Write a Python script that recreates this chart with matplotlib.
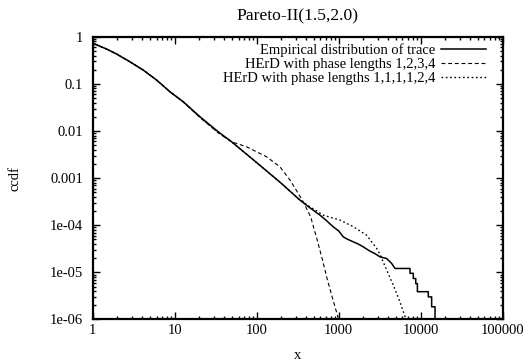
import matplotlib
matplotlib.use("Agg")
import matplotlib.pyplot as plt
import numpy as np

plt.rcParams['font.family'] = ['Liberation Serif', 'DejaVu Serif']
plt.rcParams['font.size'] = 10.5

title = "Pareto-II(1.5,2.0)"
xlabel = "x"
ylabel = "ccdf"
labels = ["Empirical distribution of trace",
          "HErD with phase lengths 1,2,3,4",
          "HErD with phase lengths 1,1,1,1,2,4"]
xticks = [1, 10, 100, 1000, 10000, 100000]
xticklabels = ["1", "10", "100", "1000", "10000", "100000"]
yticks = [1, 0.1, 0.01, 0.001, 1e-4, 1e-5, 1e-6]
yticklabels = ["1", "0.1", "0.01", "0.001", "1e-04", "1e-05", "1e-06"]

# Empirical ccdf (log10 x, log10 y)
emp_logx = [0.0, 0.171, 0.293, 0.455, 0.617, 0.780, 0.943, 1.105, 1.309, 1.532,
            1.695, 2.0, 2.3, 2.528, 2.65, 2.772, 2.85, 2.934, 3.0, 3.056, 3.10,
            3.178, 3.24, 3.30, 3.382, 3.44, 3.504, 3.585, 3.646, 3.687, 3.87,
            3.87, 3.91, 3.91, 3.94, 3.94, 3.96, 3.96, 4.093, 4.093, 4.134,
            4.134, 4.175, 4.175]
emp_logy = [-0.135, -0.261, -0.367, -0.531, -0.707, -0.919, -1.168, -1.380, -1.699, -2.017,
            -2.23, -2.67, -3.11, -3.467, -3.63, -3.785, -3.90, -4.034, -4.12, -4.246, -4.29,
            -4.352, -4.40, -4.459, -4.55, -4.60, -4.671, -4.706, -4.81, -4.917, -4.917,
            -5.02, -5.02, -5.13, -5.13, -5.24, -5.24, -5.41, -5.41, -5.52, -5.52,
            -5.73, -5.73, -6.6]

# HErD 1,2,3,4
h1_logx = [0.0, 0.171, 0.293, 0.455, 0.617, 0.780, 0.943, 1.105, 1.309, 1.532,
           1.695, 1.878, 2.122, 2.284, 2.406, 2.507, 2.568, 2.658, 2.739, 2.80,
           2.861, 2.93, 3.0, 3.03]
h1_logy = [-0.135, -0.261, -0.367, -0.531, -0.707, -0.919, -1.165, -1.385, -1.715, -2.04,
           -2.23, -2.335, -2.548, -2.76, -3.04, -3.325, -3.503, -3.82, -4.32, -4.72,
           -5.15, -5.58, -6.0, -6.2]

# HErD 1,1,1,1,2,4
h2_logx = [0.0, 0.171, 0.293, 0.455, 0.617, 0.780, 0.943, 1.105, 1.309, 1.532,
           1.695, 2.0, 2.3, 2.528, 2.65, 2.81, 3.016, 3.178, 3.34, 3.463, 3.504,
           3.585, 3.666, 3.748, 3.81, 3.83]
h2_logy = [-0.135, -0.261, -0.367, -0.531, -0.707, -0.919, -1.170, -1.378, -1.705, -2.03,
           -2.23, -2.67, -3.11, -3.467, -3.61, -3.785, -3.89, -4.03, -4.21, -4.49, -4.62,
           -4.95, -5.27, -5.63, -5.94, -6.05]

fig = plt.figure(figsize=(5.28, 3.61), dpi=100)
ax = fig.add_axes([0.1756, 0.115, 0.952 - 0.1756, 0.898 - 0.115])

ax.plot(10 ** np.array(emp_logx), 10 ** np.array(emp_logy), color='black', lw=1.1,
        label=labels[0])
ax.plot(10 ** np.array(h1_logx), 10 ** np.array(h1_logy), color='black', lw=0.8,
        dashes=(3.5, 2.5), label=labels[1])
ax.plot(10 ** np.array(h2_logx), 10 ** np.array(h2_logy), color='black', lw=1.0,
        dashes=(1.2, 1.9), label=labels[2])

ax.set_xscale('log')
ax.set_yscale('log')
ax.set_xlim(1, 100000)
ax.set_ylim(1e-6, 1)
ax.set_xticks(xticks)
ax.set_xticklabels(xticklabels)
ax.set_yticks(yticks)
ax.set_yticklabels(yticklabels)
ax.tick_params(which='both', direction='in', top=True, right=True, width=1.0)
ax.tick_params(which='major', length=5)
ax.tick_params(which='minor', length=2.5)
ax.tick_params(axis='x', which='major', pad=3)
ax.tick_params(axis='y', which='major', pad=7)
for s in ax.spines.values():
    s.set_linewidth(1.6)

ax.set_title(title, pad=12)
ax.set_xlabel(xlabel, labelpad=9)
ax.set_ylabel(ylabel, labelpad=20)

leg = ax.legend(loc='upper right', frameon=False, markerfirst=False,
                handlelength=3.1, handletextpad=0.35, labelspacing=0.06,
                borderaxespad=0.0, borderpad=0.0,
                bbox_to_anchor=((486 - 92.7) / 410, 1 - 6.5 / 282.8))

fig.savefig('out.png', dpi=100)
